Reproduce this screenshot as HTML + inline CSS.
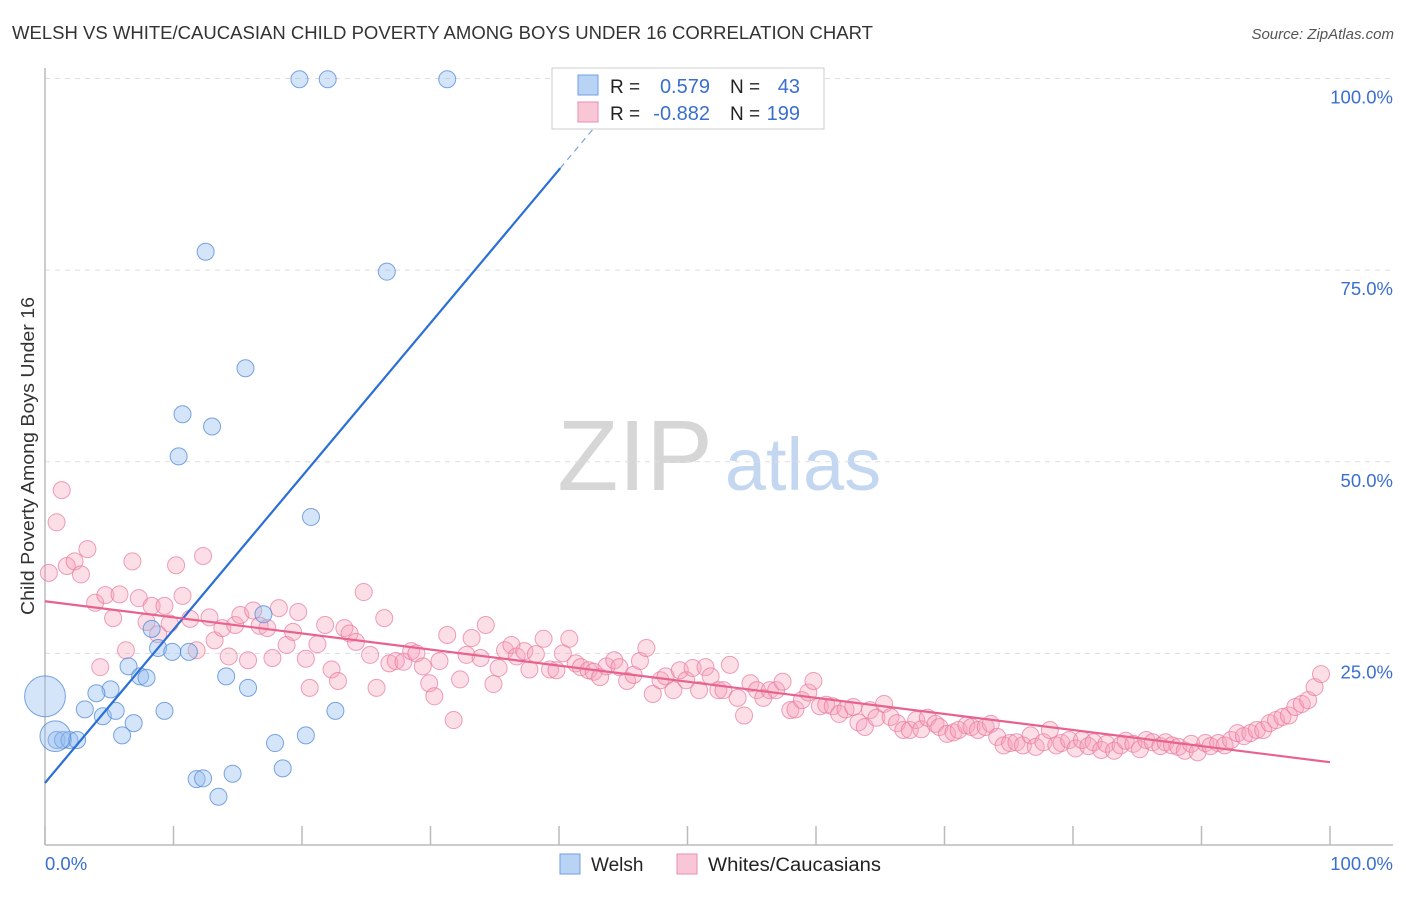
<!DOCTYPE html>
<html><head><meta charset="utf-8"><style>
body{margin:0;background:#fff;font-family:"Liberation Sans",sans-serif}
svg text{font-family:"Liberation Sans",sans-serif}
</style></head><body>
<svg id="chart" width="1406" height="892" xmlns="http://www.w3.org/2000/svg">
<text x="12" y="39" font-size="18" fill="#333" textLength="861" lengthAdjust="spacingAndGlyphs">WELSH VS WHITE/CAUCASIAN CHILD POVERTY AMONG BOYS UNDER 16 CORRELATION CHART</text>
<text x="1394" y="39" font-size="15" fill="#555" font-style="italic" text-anchor="end">Source: ZipAtlas.com</text>
<g>
<text x="635" y="490" font-size="100" fill="#d6d6d6" font-family="Liberation Serif" text-anchor="middle">ZIP</text>
<text x="803" y="490" font-size="74" fill="#c4d7f0" text-anchor="middle">atlas</text>
</g>
<g id="grid"></g><g id="axes"></g><g id="pts"></g><g id="lines"></g>
<text transform="translate(34,456) rotate(-90)" font-size="18" fill="#333" text-anchor="middle" textLength="318" lengthAdjust="spacingAndGlyphs">Child Poverty Among Boys Under 16</text>
<g>
<rect x="552" y="68" width="272" height="61" fill="#fff" stroke="#ccc"/>
<rect x="578" y="75" width="20" height="20" fill="#b9d3f5" stroke="#6f9fe0"/>
<rect x="578" y="102" width="20" height="20" fill="#f8c6d5" stroke="#eb8fab"/>
<text x="610" y="93" font-size="19" fill="#222">R = </text><text x="710" y="93" font-size="20" fill="#3a6fd0" text-anchor="end">0.579</text>
<text x="730" y="93" font-size="19" fill="#222">N = </text><text x="800" y="93" font-size="20" fill="#3a6fd0" text-anchor="end">43</text>
<text x="610" y="120" font-size="19" fill="#222">R = </text><text x="710" y="120" font-size="20" fill="#3a6fd0" text-anchor="end">-0.882</text>
<text x="730" y="120" font-size="19" fill="#222">N = </text><text x="800" y="120" font-size="20" fill="#3a6fd0" text-anchor="end">199</text>
</g>
<g>
<rect x="560" y="854" width="20" height="20" fill="#b9d3f5" stroke="#6f9fe0"/>
<text x="591" y="871" font-size="19" fill="#222">Welsh</text>
<rect x="677" y="854" width="20" height="20" fill="#f8c6d5" stroke="#eb8fab"/>
<text x="708" y="871" font-size="19" fill="#222" textLength="173" lengthAdjust="spacingAndGlyphs">Whites/Caucasians</text>
</g>
</svg>
<script>
const yTicks=[25,50,75,100];
const yTickLabels=["25.0%","50.0%","75.0%","100.0%"];
const xTicks=[0,10,20,30,40,50,60,70,80,90,100];
const welshX=[19.8,22.0,31.3,12.5,26.6,15.6,10.7,13.0,10.4,20.7,17.0,8.3,8.8,9.9,11.2,6.5,7.4,7.9,5.1,4.0,14.1,15.8,3.1,4.5,5.5,6.9,9.3,6.0,22.6,0.9,1.4,1.9,2.5,17.9,20.3,11.8,12.3,14.6,18.5,13.5,0,0.8];
const welshY=[99.9,99.9,99.9,77.4,74.8,62.2,56.2,54.6,50.7,42.8,30.1,28.2,25.7,25.2,25.2,23.3,22.0,21.8,20.3,19.8,22.0,20.5,17.7,16.8,17.5,15.9,17.5,14.3,17.5,13.7,13.7,13.7,13.7,13.3,14.3,8.6,8.7,9.3,10.0,6.3,19.4,14.2];
const welshSize=[1,1,1,1,1,1,1,1,1,1,1,1,1,1,1,1,1,1,1,1,1,1,1,1,1,1,1,1,1,1,1,1,1,1,1,1,1,1,1,1,2.4,1.8];
const whiteX=[0.3,0.9,1.3,1.7,2.3,2.8,3.3,3.9,4.3,4.7,5.3,5.8,6.3,6.8,7.3,7.9,8.3,8.8,9.3,9.7,10.2,10.7,11.3,11.8,12.3,12.8,13.2,13.8,14.3,14.8,15.2,15.8,16.2,16.7,17.3,17.7,18.2,18.8,19.3,19.7,20.3,20.6,21.2,21.8,22.3,22.8,23.3,23.7,24.2,24.8,25.3,25.8,26.4,26.8,27.3,27.9,28.5,28.9,29.4,29.9,30.3,30.7,31.3,31.8,32.3,32.8,33.2,33.9,34.3,34.9,35.3,35.8,36.3,36.7,37.3,37.7,38.2,38.8,39.3,39.8,40.3,40.8,41.3,41.7,42.3,42.7,43.2,43.7,44.3,44.7,45.3,45.8,46.3,46.8,47.3,47.9,48.3,48.9,49.4,49.9,50.4,50.9,51.4,51.8,52.4,52.8,53.3,53.9,54.4,54.9,55.4,55.9,56.4,56.9,57.4,58.0,58.4,58.9,59.4,59.8,60.3,60.8,61.3,61.8,62.3,62.9,63.3,63.8,64.2,64.7,65.3,65.8,66.3,66.8,67.3,67.8,68.2,68.7,69.3,69.6,70.2,70.7,71.1,71.7,72.1,72.6,73.2,73.6,74.1,74.6,75.1,75.6,76.1,76.7,77.1,77.7,78.2,78.7,79.1,79.7,80.2,80.7,81.2,81.6,82.2,82.6,83.2,83.7,84.1,84.7,85.2,85.7,86.2,86.8,87.2,87.7,88.2,88.7,89.2,89.7,90.3,90.7,91.3,91.8,92.3,92.8,93.3,93.8,94.3,94.8,95.3,95.8,96.3,96.8,97.3,97.8,98.3,98.8,99.3];
const whiteY=[35.5,42.1,46.3,36.4,37.0,35.3,38.6,31.6,23.2,32.6,29.6,32.7,25.4,37.0,32.2,29.1,31.2,27.5,31.2,28.9,36.5,32.5,29.5,25.4,37.7,29.7,26.7,28.3,24.6,28.7,30.0,24.1,30.6,28.6,28.3,24.4,30.9,26.1,27.8,30.4,24.3,20.5,26.2,28.7,22.9,21.4,28.3,27.6,26.5,33.0,24.8,20.5,29.6,23.7,24.0,23.9,25.3,25.0,23.3,21.1,19.4,24.0,27.4,16.3,21.6,24.8,27.0,24.4,28.7,21.0,23.1,25.4,26.1,24.6,25.3,22.9,24.9,26.9,22.9,22.8,25.0,26.9,23.7,23.2,22.8,22.6,21.9,23.3,24.1,23.2,21.4,22.2,24.0,25.7,19.7,21.5,22.0,20.2,22.8,21.5,23.1,20.2,23.2,22.0,20.2,20.2,23.5,19.2,16.9,21.1,20.2,19.2,20.2,20.2,21.3,17.6,17.7,18.9,19.9,21.4,18.1,18.3,18.1,17.1,17.7,18.0,16.0,15.4,17.6,16.6,18.4,16.7,15.9,15.0,15.0,16.3,15.1,16.6,15.8,15.4,14.5,14.7,15.0,15.6,15.4,15.0,15.4,15.8,14.1,13.0,13.3,13.4,13.0,14.3,12.8,13.4,15.0,13.0,13.3,13.7,12.6,13.7,12.9,13.4,12.4,13.2,12.3,13.0,13.6,13.2,12.5,13.7,13.4,12.9,13.4,13.0,12.8,12.3,13.2,12.1,13.3,12.9,13.3,13.0,13.7,14.6,14.2,14.6,15.0,15.0,15.9,16.3,16.7,16.9,18.0,18.4,18.9,20.6,22.3];
const welshTrend=[[0,8.1],[40.1,88.3]];
const welshTrendExt=[[40.1,88.3],[43.2,94.5]];
const whiteTrend=[[0,31.8],[100,10.8]];

const NS="http://www.w3.org/2000/svg";
const X=v=>45+v*12.85, Y=v=>845-v*7.665;
function mk(tag,attrs,parent){const e=document.createElementNS(NS,tag);for(const k in attrs)e.setAttribute(k,attrs[k]);document.getElementById(parent).appendChild(e);return e;}
yTicks.forEach((t,i)=>{
 const g=mk('line',{x1:45,x2:1393,y1:Y(t),y2:Y(t),stroke:'#ddd','stroke-dasharray':'5,5'},'grid');
 
 
 const l=mk('text',{x:1393,y:Y(t)+25,'font-size':18.5,fill:'#3a6fd0','text-anchor':'end'},'grid');
 
 
 l.textContent=yTickLabels[i];
});
const ax=mk('line',{x1:45,x2:1393,y1:845,y2:845,stroke:'#bbb','stroke-width':1.5},'axes');


const ay=mk('line',{x1:45,x2:45,y1:68,y2:845,stroke:'#bbb','stroke-width':1.5},'axes');


xTicks.forEach(t=>{const e=mk('line',{x1:X(t),x2:X(t),y1:826,y2:845,stroke:'#bbb','stroke-width':1.5},'axes');
 
 });
const x0=mk('text',{x:45,y:870,'font-size':18.5,fill:'#3a6fd0'},'axes');x0.textContent='0.0%';


const x1=mk('text',{x:1393,y:870,'font-size':18.5,fill:'#3a6fd0','text-anchor':'end'},'axes');x1.textContent='100.0%';


whiteX.forEach((v,i)=>{const c=mk('circle',{cx:X(v),cy:Y(whiteY[i]),r:8.5,fill:'rgba(245,160,185,0.35)',stroke:'rgba(232,120,155,0.7)','stroke-width':1},'pts');
 
 });
welshX.forEach((v,i)=>{const c=mk('circle',{cx:X(v),cy:Y(welshY[i]),r:8.5*welshSize[i],fill:'rgba(150,190,240,0.4)',stroke:'rgba(80,135,215,0.75)','stroke-width':1},'pts');
 
 });
const wt=mk('line',{x1:X(welshTrend[0][0]),y1:Y(welshTrend[0][1]),x2:X(welshTrend[1][0]),y2:Y(welshTrend[1][1]),stroke:'#2a6fd6','stroke-width':2.2},'lines');


const we=mk('line',{x1:X(welshTrendExt[0][0]),y1:Y(welshTrendExt[0][1]),x2:X(welshTrendExt[1][0]),y2:Y(welshTrendExt[1][1]),stroke:'#7aa3e0','stroke-width':1.2,'stroke-dasharray':'6,5'},'lines');


const pt=mk('line',{x1:X(whiteTrend[0][0]),y1:Y(whiteTrend[0][1]),x2:X(whiteTrend[1][0]),y2:Y(whiteTrend[1][1]),stroke:'#e8628e','stroke-width':2.2},'lines');


</script>
</body></html>
